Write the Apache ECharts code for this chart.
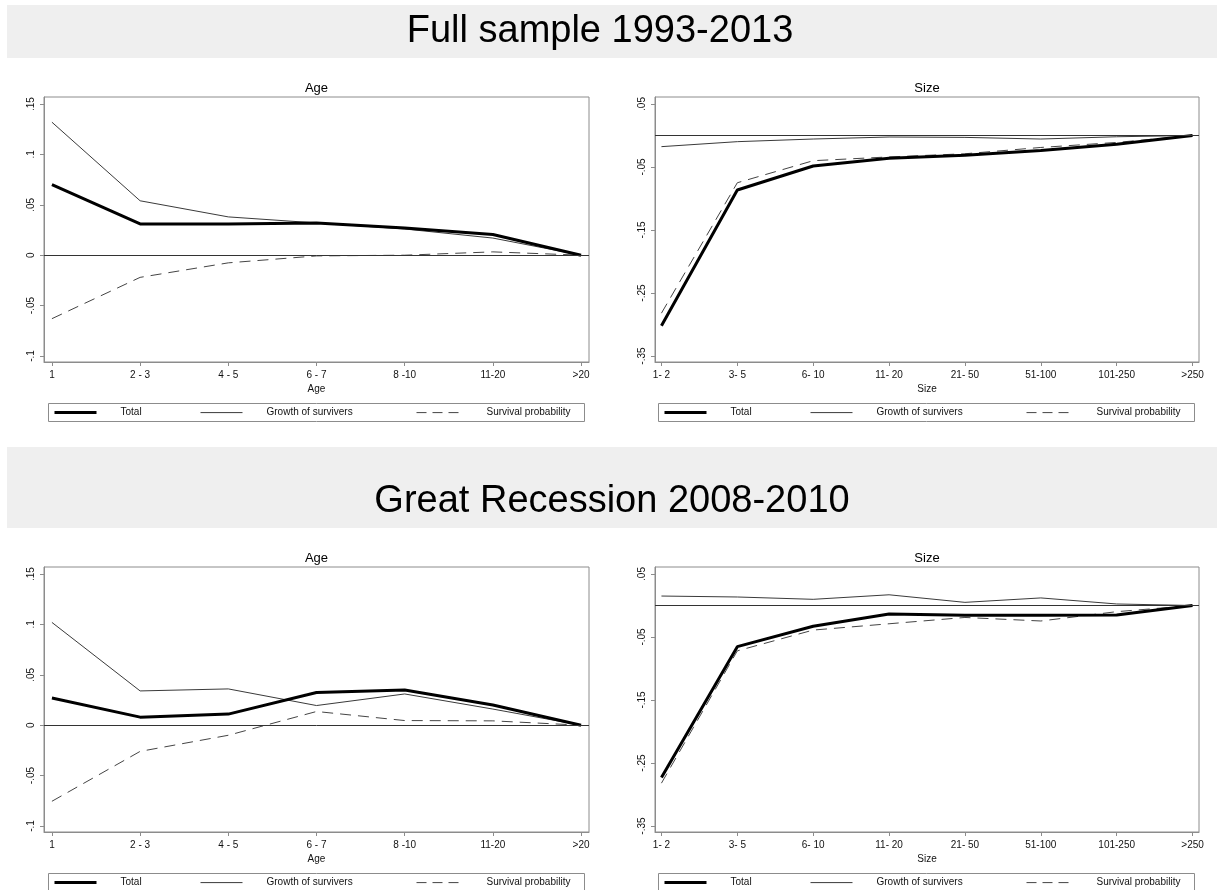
<!DOCTYPE html>
<html>
<head>
<meta charset="utf-8">
<script src="https://cdn.jsdelivr.net/npm/echarts@6/dist/echarts.min.js"></script>
<style>
html,body{margin:0;padding:0;background:#fff;}
#chart{width:1217px;height:890px;}
</style>
</head>
<body>
<div id="chart"></div>
<script>
// ---- Categories ----
const ageCats = ['1', '2 - 3', '4 - 5', '6 - 7', '8 -10', '11-20', '>20'];
const sizeCats = ['1- 2', '3- 5', '6- 10', '11- 20', '21- 50', '51-100', '101-250', '>250'];

// ---- Tick values ----
const ageTicks = [-0.1, -0.05, 0, 0.05, 0.1, 0.15];
const sizeTicks = [-0.35, -0.25, -0.15, -0.05, 0.05];

// ---- Full sample 1993-2013 ----
const fullAgeTotal  = [0.070, 0.031, 0.031, 0.032, 0.027, 0.0205, 0];
const fullAgeGrowth = [0.132, 0.054, 0.038, 0.032, 0.026, 0.017, 0];
const fullAgeSurv   = [-0.063, -0.022, -0.0076, -0.0007, 0, 0.0033, 0];
const fullSizeTotal  = [-0.302, -0.0865, -0.0484, -0.036, -0.0315, -0.024, -0.014, 0];
const fullSizeGrowth = [-0.0177, -0.0098, -0.0056, -0.0024, -0.003, -0.0056, -0.002, 0];
const fullSizeSurv   = [-0.282, -0.075, -0.040, -0.034, -0.029, -0.019, -0.011, 0];

// ---- Great Recession 2008-2010 ----
const recAgeTotal  = [0.027, 0.008, 0.011, 0.0325, 0.035, 0.020, 0];
const recAgeGrowth = [0.102, 0.034, 0.036, 0.0195, 0.031, 0.016, 0];
const recAgeSurv   = [-0.0755, -0.026, -0.010, 0.0136, 0.0046, 0.0043, 0];
const recSizeTotal  = [-0.273, -0.0653, -0.033, -0.0135, -0.0156, -0.0156, -0.015, 0];
const recSizeGrowth = [0.015, 0.0135, 0.0098, 0.017, 0.005, 0.012, 0.0024, 0];
const recSizeSurv   = [-0.282, -0.072, -0.039, -0.029, -0.019, -0.0246, -0.0098, 0];

const seriesNames = ['Total', 'Growth of survivers', 'Survival probability'];

const FONT = '"Liberation Sans", Arial, Helvetica, sans-serif';
const chart = echarts.init(document.getElementById('chart'), null, {renderer: 'canvas'});

function fmtTick(v) {
  if (Math.abs(v) < 1e-9) return '0';
  return String(+v.toFixed(2)).replace('0.', '.');
}

const panels = [
  {title: 'Age',  cats: ageCats,  ticks: ageTicks,  ymin: -0.106, ymax: 0.157, xpad: 0.09,
   left: 44,  top: 97,  width: 545, total: fullAgeTotal,  growth: fullAgeGrowth,  surv: fullAgeSurv},
  {title: 'Size', cats: sizeCats, ticks: sizeTicks, ymin: -0.3595, ymax: 0.0611, xpad: 0.085,
   left: 655, top: 97,  width: 544, total: fullSizeTotal, growth: fullSizeGrowth, surv: fullSizeSurv},
  {title: 'Age',  cats: ageCats,  ticks: ageTicks,  ymin: -0.106, ymax: 0.157, xpad: 0.09,
   left: 44,  top: 567, width: 545, total: recAgeTotal,   growth: recAgeGrowth,   surv: recAgeSurv},
  {title: 'Size', cats: sizeCats, ticks: sizeTicks, ymin: -0.3595, ymax: 0.0611, xpad: 0.085,
   left: 655, top: 567, width: 544, total: recSizeTotal,  growth: recSizeGrowth,  surv: recSizeSurv}
];
const PLOT_H = 265;

const grid = [], xAxis = [], yAxis = [], series = [], legend = [], graphic = [];

graphic.push({type: 'rect', z: 0, shape: {x: 7, y: 5, width: 1210, height: 53}, style: {fill: '#efefef'}});
graphic.push({type: 'rect', z: 0, shape: {x: 7, y: 447, width: 1210, height: 81}, style: {fill: '#efefef'}});
graphic.push({type: 'text', z: 5, x: 600, y: 32, style: {text: 'Full sample 1993-2013', font: '38px ' + FONT, fill: '#000', align: 'center', verticalAlign: 'middle'}});
graphic.push({type: 'text', z: 5, x: 612, y: 502, style: {text: 'Great Recession 2008-2010', font: '38px ' + FONT, fill: '#000', align: 'center', verticalAlign: 'middle'}});

const legendLine = [
  {color: '#000', width: 3, type: 'solid'},
  {color: '#3a3a3a', width: 1, type: 'solid'},
  {color: '#444', width: 1, type: [10, 6]}
];

panels.forEach((p, i) => {
  grid.push({left: p.left, top: p.top, width: p.width, height: PLOT_H, show: true,
    borderColor: '#8c8c8c', borderWidth: 1, backgroundColor: '#fff', containLabel: false});
  const idx = p.cats.map((c, k) => k);
  xAxis.push({
    gridIndex: i, type: 'value', min: -p.xpad, max: p.cats.length - 1 + p.xpad,
    name: p.title, nameLocation: 'middle', nameGap: 22,
    nameTextStyle: {fontSize: 10, color: '#111', fontFamily: FONT},
    axisLine: {show: true, onZero: false, lineStyle: {color: '#8c8c8c', width: 1}},
    axisTick: {show: true, length: 4, lineStyle: {color: '#8c8c8c'}, customValues: idx},
    axisLabel: {show: true, fontSize: 10, color: '#111', fontFamily: FONT, margin: 8,
      customValues: idx, formatter: v => p.cats[Math.round(v)]},
    splitLine: {show: false}
  });
  yAxis.push({
    gridIndex: i, type: 'value', min: p.ymin, max: p.ymax,
    axisLine: {show: true, onZero: false, lineStyle: {color: '#8c8c8c', width: 1}},
    axisTick: {show: true, length: 4, lineStyle: {color: '#8c8c8c'}, customValues: p.ticks},
    axisLabel: {show: true, fontSize: 10, color: '#111', fontFamily: FONT, margin: 8, rotate: 90,
      customValues: p.ticks, formatter: fmtTick},
    splitLine: {show: false}
  });
  const mk = arr => arr.map((v, k) => [k, v]);
  series.push({
    name: seriesNames[2], type: 'line', xAxisIndex: i, yAxisIndex: i, data: mk(p.surv),
    symbol: 'none', silent: true, z: 2,
    lineStyle: {color: '#444', width: 1, type: [11, 7]}, itemStyle: {color: '#444'}
  });
  series.push({
    name: seriesNames[1], type: 'line', xAxisIndex: i, yAxisIndex: i, data: mk(p.growth),
    symbol: 'none', silent: true, z: 3,
    lineStyle: {color: '#3a3a3a', width: 1}, itemStyle: {color: '#3a3a3a'},
    markLine: {silent: true, symbol: 'none', label: {show: false},
      lineStyle: {color: '#333', width: 1, type: 'solid'}, data: [{yAxis: 0}]}
  });
  series.push({
    name: seriesNames[0], type: 'line', xAxisIndex: i, yAxisIndex: i, data: mk(p.total),
    symbol: 'none', silent: true, z: 4,
    lineStyle: {color: '#000', width: 3}, itemStyle: {color: '#000'}
  });

  // panel title
  graphic.push({type: 'text', z: 5, x: p.left + p.width / 2, y: p.top - 9,
    style: {text: p.title, font: '13px ' + FONT, fill: '#000', align: 'center', verticalAlign: 'middle'}});

  // legend
  const boxL = p.left + 4 + (i % 2 === 1 ? -1 : 0);
  const boxT = p.top + 306;
  graphic.push({type: 'rect', z: 5, shape: {x: boxL + 0.5, y: boxT + 0.5, width: 536, height: 18},
    style: {fill: 'none', stroke: '#8c8c8c', lineWidth: 1}});
  const offs = [5, 152, 368];
  seriesNames.forEach((n, k) => {
    legend.push({
      data: [n], left: boxL + offs[k], top: boxT + 4, padding: 0, itemWidth: 42, itemHeight: 14,
      selectedMode: false,
      itemStyle: {opacity: 0},
      lineStyle: legendLine[k],
      textStyle: {fontSize: 10, color: '#111', fontFamily: FONT, padding: [0, 0, 0, k === 2 ? 23 : 19]}
    });
  });
});

chart.setOption({
  animation: false,
  backgroundColor: '#fff',
  textStyle: {fontFamily: FONT},
  grid, xAxis, yAxis, series, legend, graphic
});
</script>
</body>
</html>
